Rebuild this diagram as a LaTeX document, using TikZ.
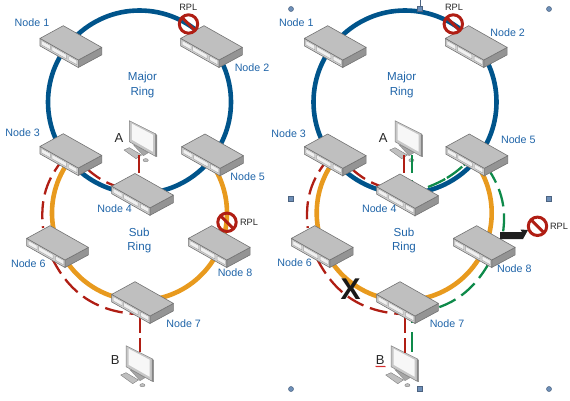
\documentclass[tikz,border=0pt]{standalone}
\usepackage{fontspec}
\setmainfont{Liberation Sans}
\usetikzlibrary{arrows.meta, decorations.pathmorphing}
\definecolor{ringblue}{HTML}{00548B}
\definecolor{ringorange}{HTML}{E89A1E}
\definecolor{pathred}{HTML}{B01E14}
\definecolor{pathgreen}{HTML}{0E8A4A}
\definecolor{labelblue}{HTML}{1F64A8}
\definecolor{handleblue}{HTML}{6E8FB8}
\tikzset{
    switchbox/.pic={
        \filldraw[draw=black!55, fill=black!42, line width=.6pt] (38.4,-21.7) -- (38.4,-29.2) -- (15,-41.8) -- (15,-34.3) -- cycle;
        \filldraw[draw=black!55, fill=black!18, line width=.6pt] (-23.3,-12.7) -- (15,-34.3) -- (15,-41.8) -- (-23.3,-20.2) -- cycle;
        \filldraw[draw=black!55, fill=black!25, line width=.6pt, line join=round] (0,0) -- (38.4,-21.7) -- (15,-34.3) -- (-23.3,-12.7) -- cycle;
        \foreach \xa/\ya/\xb/\yb in {-21.8/-13.6/-13/-18.5, -11.4/-19.4/3.1/-27.6, 5.4/-28.9/13.5/-33.4}
            \filldraw[draw=black!35, fill=black!6, line width=.4pt] (\xa,\ya-1.2) -- (\xb,\yb-1.2) -- (\xb,\yb-5.6) -- (\xa,\ya-5.6) -- cycle;
    },
    pcset/.pic={
        \filldraw[draw=black!45, fill=black!35, line width=.4pt] (4,-24) -- (9,-26) -- (19,-32) -- (14,-35) -- cycle;
        \filldraw[draw=black!45, fill=black!50, line width=.4pt] (26,-13) -- (27.6,-14.6) -- (27.6,-36) -- (26,-35.5) -- cycle;
        \filldraw[draw=black!50, fill=black!22, line width=.5pt] (0,0) -- (26,-13) -- (26,-35.5) -- (0,-21) -- cycle;
        \fill[black!3] (2.5,-3) -- (23.5,-14) -- (23.5,-31) -- (2.5,-19) -- cycle;
        \filldraw[draw=black!50, fill=black!25, line width=.4pt] (-5.3,-29.3) -- (0,-27) -- (12.4,-34.3) -- (6.7,-38) -- cycle;
        \filldraw[draw=black!50, fill=black!25, line width=.4pt] (16.4,-39.5) ellipse (2.6 and 1.6);
    },
    noring/.pic={
        \draw[pathred, line width=3pt] (0,0) circle (9.2);
        \draw[pathred, line width=3pt] (-6.5,6.5) -- (6.5,-6.5);
    }
}
\begin{document}
\begin{tikzpicture}[
        x=1pt, y=1pt,
        majorring/.style={ringblue, line width=4.6pt},
        subring/.style={ringorange, line width=4.6pt},
        redroute/.style={pathred, line width=2.3pt, dash pattern=on 18pt off 7pt},
        greenroute/.style={pathgreen, line width=2.3pt, dash pattern=on 18pt off 7pt},
        nodename/.style={text=labelblue, font=\fontsize{10.7}{12}\selectfont, inner sep=0pt},
        ringname/.style={text=labelblue, font=\fontsize{11.6}{14}\selectfont, align=center, inner sep=0pt},
        rplname/.style={text=black!85, font=\fontsize{9.2}{10}\selectfont, inner sep=0pt},
        pcname/.style={text=black!85, font=\fontsize{13}{14}\selectfont, inner sep=0pt},
        handledot/.style={circle, draw=handleblue!70!black, fill=handleblue, line width=.5pt, minimum size=5pt, inner sep=0pt},
        handlesq/.style={rectangle, draw=handleblue!70!black, fill=handleblue, line width=.5pt, minimum size=5pt, inner sep=0pt}
    ]
        \useasboundingbox (0,0) rectangle (570,400);
        % left panel
        \draw[majorring] (139.5,298) circle (91.5);
        \draw[subring] (139.5,187) ++(145:87.5) arc[start angle=145, end angle=395, radius=87.5];
        \pic (pcA) at (129.3,279.3) {pcset};
        \pic (pcB) at (126,54.3) {pcset};
        \coordinate (ra1) at (139.3,245);
        \coordinate (ra2) at (139.3,222);
        \coordinate (r43a) at (118,213);
        \coordinate (r43b) at (86,232);
        \coordinate (r36a) at (65,243);
        \coordinate (r36b) at (43,172);
        \coordinate (r67a) at (52,142);
        \coordinate (r67b) at (136,86);
        \coordinate (rb1) at (140,84);
        \coordinate (rb2) at (140,48);
        \draw[redroute] (ra1) -- (ra2);
        \draw[redroute] (r43b) to[bend right=11] (r43a);
        \draw[redroute] (r36a) to[bend right=23] (r36b);
        \draw[redroute] (r67a) to[bend right=30] (r67b);
        \draw[redroute, dash pattern=on 17pt off 5pt] (rb1) -- (rb2);
        \pic (n1) at (63.3,374.3) {switchbox};
        \pic (n2) at (204,374.3) {switchbox};
        \pic (n3) at (63.3,266.3) {switchbox};
        \pic (n5) at (205,266) {switchbox};
        \pic (n4) at (135,226.5) {switchbox};
        \pic (n6) at (50,174.3) {switchbox};
        \pic (n8) at (211.7,174.3) {switchbox};
        \pic (n7) at (135,118.3) {switchbox};
        \pic (stopA) at (188.5,376) {noring};
        \pic (stopB) at (227,177.7) {noring};
        \node[nodename] (l1) at (32,377) {Node 1};
        \node[nodename] (l2) at (252,332) {Node 2};
        \node[nodename] (l3) at (22.7,267.3) {Node 3};
        \node[nodename] (l4) at (114.7,191) {Node 4};
        \node[nodename] (l5) at (247.7,223.3) {Node 5};
        \node[nodename] (l6) at (28.3,136.7) {Node 6};
        \node[nodename] (l7) at (183.7,76.3) {Node 7};
        \node[nodename] (l8) at (235,127.3) {Node 8};
        \node[ringname] (major) at (142.5,315) {Major\\Ring};
        \node[ringname] (sub) at (139.3,160) {Sub\\Ring};
        \node[rplname] (rplA) at (188.3,392.7) {RPL};
        \node[rplname] (rplB) at (249,177.7) {RPL};
        \node[pcname] (la) at (119,262.3) {A};
        \node[pcname] (lb) at (115.3,40) {B};
        % right panel
        \draw[majorring] (405,298) circle (91.5);
        \draw[subring] (404.2,187) ++(145:87.5) arc[start angle=145, end angle=395, radius=87.5];
        \pic (pcC) at (395,279.3) {pcset};
        \pic (pcD) at (391,54.3) {pcset};
        \coordinate (sa1) at (404.3,245);
        \coordinate (sa2) at (404.3,222);
        \coordinate (s43a) at (382.7,213);
        \coordinate (s43b) at (350.7,232);
        \coordinate (s36a) at (329.7,243);
        \coordinate (s36b) at (307.7,172);
        \coordinate (s67a) at (316.7,142);
        \coordinate (s67b) at (400.7,86);
        \coordinate (sb1) at (405,84);
        \coordinate (sb2) at (405,47);
        \coordinate (ga1) at (411.7,245);
        \coordinate (ga2) at (411.7,214);
        \coordinate (g45a) at (428,213);
        \coordinate (g45b) at (470,241);
        \coordinate (g58a) at (487,233);
        \coordinate (g58b) at (502,161);
        \coordinate (g87a) at (489,137);
        \coordinate (g87b) at (410,87);
        \coordinate (gb1) at (411.7,97);
        \coordinate (gb2) at (411.7,48);
        \draw[redroute] (sa1) -- (sa2);
        \draw[greenroute] (ga1) -- (ga2);
        \draw[redroute] (s43b) to[bend right=11] (s43a);
        \draw[redroute] (s36a) to[bend right=23] (s36b);
        \draw[redroute] (s67a) to[bend right=30] (s67b);
        \draw[redroute, dash pattern=on 17pt off 5pt] (sb1) -- (sb2);
        \draw[greenroute, dash pattern=on 19pt off 2pt] (g45a) to[bend right=12] (g45b);
        \draw[greenroute] (g58a) to[bend left=22] (g58b);
        \draw[greenroute] (g87a) to[bend left=28] (g87b);
        \draw[greenroute, dash pattern=on 20pt off 9pt] (gb1) -- (gb2);
        \pic (m1) at (327.7,374.3) {switchbox};
        \pic (m2) at (468.7,374.3) {switchbox};
        \pic (m3) at (327.7,266) {switchbox};
        \pic (m5) at (469.3,266) {switchbox};
        \pic (m4) at (400,226) {switchbox};
        \pic (m6) at (314.7,174.3) {switchbox};
        \pic (m8) at (476.7,174.3) {switchbox};
        \pic (m7) at (400,118.3) {switchbox};
        \coordinate (arrowfoot) at (500,164.5);
        \coordinate (arrowhead) at (528,170);
        \fill[black!88] (arrowfoot) ++(0,3.4) -- ++(22,0) -- ++(-1.5,2.6) -- (arrowhead) -- (523,161) -- (521.5,161) -- (500,161) -- cycle;
        \pic (stopC) at (453.3,376) {noring};
        \pic (stopD) at (537.5,173.7) {noring};
        \node[font=\bfseries\fontsize{30}{30}\selectfont, text=black!90, inner sep=0pt] (fault) at (350.7,110.7) {X};
        \node[nodename] (k1) at (296.3,377) {Node 1};
        \node[nodename] (k2) at (507.7,367.3) {Node 2};
        \node[nodename] (k3) at (288.7,266) {Node 3};
        \node[nodename] (k4) at (379.3,191) {Node 4};
        \node[nodename] (k5) at (518.3,260) {Node 5};
        \node[nodename] (k6) at (294.7,137.3) {Node 6};
        \node[nodename] (k7) at (447,76.3) {Node 7};
        \node[nodename] (k8) at (514.3,131) {Node 8};
        \node[ringname] (majorb) at (401.7,315) {Major\\Ring};
        \node[ringname] (subb) at (404,160) {Sub\\Ring};
        \node[rplname] (rplC) at (454,392.7) {RPL};
        \node[rplname] (rplD) at (559,173.3) {RPL};
        \node[pcname] (lc) at (383.3,262.3) {A};
        \node[pcname] (ld) at (380.3,40) {B};
        \coordinate (sqa) at (375.5,33.5);
        \coordinate (sqb) at (385.5,33.5);
        \draw[red!80!black, line width=.5pt, decorate, decoration={zigzag, segment length=2pt, amplitude=.6pt}] (sqa) -- (sqb);
        % selection handles
        \foreach \hx/\hy/\hn in {291/391/hA, 549/391/hB, 291/11/hC, 549/11/hD}
            \node[handledot] (\hn) at (\hx,\hy) {};
        \foreach \hx/\hy/\hn in {420/391/hE, 291/201.5/hF, 549/201.5/hG, 420/11/hH}
            \node[handlesq] (\hn) at (\hx,\hy) {};
        \coordinate (hstem) at (420,400);
        \draw[handleblue!70!black, line width=.5pt] (hE.north) -- (hstem);
    \end{tikzpicture}
\end{document}
